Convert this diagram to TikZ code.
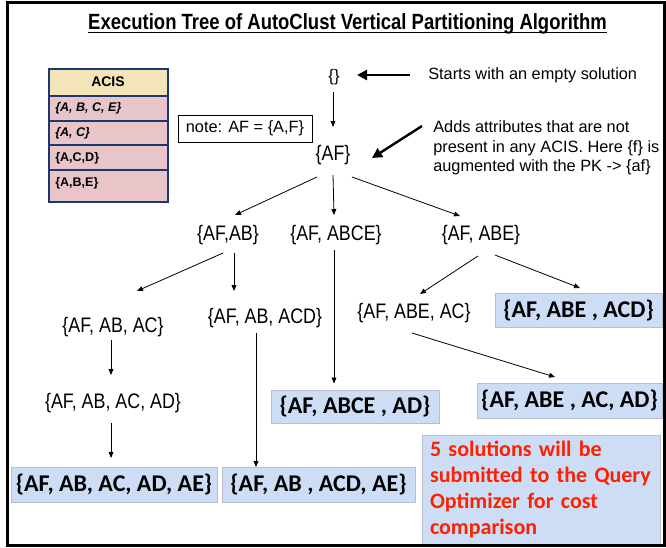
\documentclass[tikz,border=0pt]{standalone}
\usepackage{fontspec}
\setmainfont{Liberation Sans}
\newfontfamily\treefont[FakeStretch=0.85]{Liberation Sans}
\newfontfamily\headfont[FakeStretch=0.84]{Liberation Sans}
\newfontfamily\solfont{Carlito}
\usetikzlibrary{arrows.meta}
\definecolor{solblue}{RGB}{205,221,246}
\definecolor{solborder}{RGB}{185,190,205}
\definecolor{solred}{RGB}{255,32,0}
\definecolor{acisnavy}{RGB}{30,55,110}
\definecolor{acishead}{RGB}{243,228,186}
\definecolor{acisrow}{RGB}{231,197,201}
\tikzset{
  treelbl/.style={inner sep=0pt,font=\treefont\fontsize{15.75}{18}\selectfont},
  solbox/.style={draw=solborder,fill=solblue,line width=0.5pt,inner sep=0pt,
    font=\solfont\bfseries\fontsize{18}{21}\selectfont},
  thinarrow/.style={-{Triangle[length=4.5pt,width=3.6pt]},line width=0.6pt},
  thickarrow/.style={-{Triangle[length=7.5pt,width=7.5pt]},line width=1.8pt},
  remark/.style={inner sep=0pt,align=left,font=\fontsize{12.25}{14.6}\selectfont},
  acisrowtxt/.style={inner sep=0pt,anchor=west,font=\bfseries\fontsize{9.4}{11}\selectfont}
}
\begin{document}
\begin{tikzpicture}[x=0.75pt,y=-0.75pt]
      \useasboundingbox (0,0) rectangle (666,547);
      \node[inner sep=0pt,anchor=base,font=\headfont\bfseries\fontsize{16.5}{19}\selectfont] (title) at (347.5,29)
        {Execution Tree of AutoClust Vertical Partitioning Algorithm};
      \draw[line width=1.4pt] ([yshift=-2.6pt]title.base west) -- ([yshift=-2.6pt]title.base east);
      %% ACIS table
      \fill[acishead] (49,69) rectangle (168,96);
      \fill[acisrow] (49,96) rectangle (168,202);
      \foreach \y in {96,121,145,170}
        \draw[acisnavy,line width=1.1pt] (49,\y) -- (168,\y);
      \draw[acisnavy,line width=1.1pt] (49,69) rectangle (168,202);
      \node[inner sep=0pt,font=\bfseries\fontsize{10.5}{12}\selectfont] (acis) at (108,82) {ACIS};
      \node[acisrowtxt] (acisa) at (55,108) {\itshape\{A, B, C, E\}};
      \node[acisrowtxt] (acisb) at (55,133) {\itshape\{A, C\}};
      \node[acisrowtxt] (acisc) at (55,158) {\{A,C,D\}};
      \node[acisrowtxt] (acisd) at (55,183) {\{A,B,E\}};
      \node[draw,line width=0.6pt,minimum width=100.5pt,minimum height=20.25pt,inner sep=0pt,
        font=\fontsize{12.25}{14}\selectfont] (note) at (245,128.5) {note: AF = \{A,F\}};
      %% tree
      \node[inner sep=0pt,font=\fontsize{12.5}{14}\selectfont] (empty) at (334,77) {\{\}};
      \node[remark,anchor=west] (startnote) at (428,75) {Starts with an empty solution};
      \node[treelbl,font=\treefont\fontsize{15.75}{18}\selectfont] (af) at (333,155) {\{AF\}};
      \node[remark,anchor=west] (addnote) at (433,148)
        {Adds attributes that are not\\present in any ACIS. Here \{f\} is\\augmented with the PK -> \{af\}};
      \node[treelbl] (afab) at (228,235) {\{AF,AB\}};
      \node[treelbl] (afabce) at (336,235) {\{AF, ABCE\}};
      \node[treelbl] (afabe) at (481,235) {\{AF, ABE\}};
      \node[treelbl] (afabac) at (113,327) {\{AF, AB, AC\}};
      \node[treelbl] (afabacd) at (265,318) {\{AF, AB, ACD\}};
      \node[treelbl] (afabeac) at (414,313) {\{AF, ABE, AC\}};
      \node[treelbl] (afabacad) at (113,403) {\{AF, AB, AC, AD\}};
      \node[solbox,minimum width=125.25pt,minimum height=25.5pt] (solabeacd) at (578.5,310) {\{AF, ABE , ACD\}};
      \node[solbox,minimum width=138.75pt,minimum height=26.25pt] (solabeacad) at (569.5,400.5) {\{AF, ABE , AC, AD\}};
      \node[solbox,minimum width=126pt,minimum height=24.75pt] (solabcead) at (355,406.5) {\{AF, ABCE , AD\}};
      \node[solbox,minimum width=154.5pt,minimum height=26.25pt] (solabacadae) at (114,484.5) {\{AF, AB, AC, AD, AE\}};
      \node[solbox,minimum width=144.75pt,minimum height=26.25pt] (solabacdae) at (318.5,484.5) {\{AF, AB , ACD, AE\}};
      \node[solbox,minimum width=178.5pt,minimum height=81.75pt,text=solred,align=left,text width=166.5pt,
        font=\solfont\bfseries\fontsize{16.5}{19.3}\selectfont] (summary) at (541,489.5)
        {5 solutions will be\\submitted to the Query\\Optimizer for cost\\comparison};
      %% connectors
      \draw[thinarrow] ([shift={(-1,15)}]empty.center) -- ([shift={(0,-28)}]af.center);
      \draw[thickarrow] ([shift={(-18,0)}]startnote.west) -- ([shift={(23,-2)}]empty.center);
      \draw[thickarrow] ([shift={(-11,-22)}]addnote.west) -- ([shift={(39,3)}]af.center);
      \draw[thinarrow] ([shift={(-16,22)}]af.center) -- ([shift={(7,-20)}]afab.center);
      \draw[thinarrow] ([shift={(0,20)}]af.center) -- ([shift={(-2,-20)}]afabce.center);
      \draw[thinarrow] ([shift={(19,22)}]af.center) -- ([shift={(-21,-19)}]afabe.center);
      \draw[thinarrow] ([shift={(-5,18)}]afab.center) -- ([shift={(24,-36)}]afabac.center);
      \draw[thinarrow] ([shift={(6,18)}]afab.center) -- ([shift={(-31,-27)}]afabacd.center);
      \draw[thinarrow] ([shift={(-2,15)}]afabce.center) -- ([shift={(-21,-23)}]solabcead.center);
      \draw[thinarrow] ([shift={(-3,21)}]afabe.center) -- ([shift={(6,-19)}]afabeac.center);
      \draw[thinarrow] ([shift={(14,20)}]afabe.center) -- ([shift={(1.5,-22)}]solabeacd.center);
      \draw[thinarrow] ([shift={(-2,13)}]afabac.center) -- ([shift={(-2,-28)}]afabacad.center);
      \draw[thinarrow] ([shift={(-2,20)}]afabacad.center) -- ([shift={(-3,-26.5)}]solabacadae.center);
      \draw[thinarrow] ([shift={(-9,15)}]afabacd.center) -- ([shift={(-62.5,-17.5)}]solabacdae.center);
      \draw[thinarrow] ([shift={(-2,20)}]afabeac.center) -- ([shift={(-14.5,-23.5)}]solabeacad.center);
      %% frame
      \draw[line width=2.25pt] (7,2) rectangle (664.5,545);
    \end{tikzpicture}
\end{document}
